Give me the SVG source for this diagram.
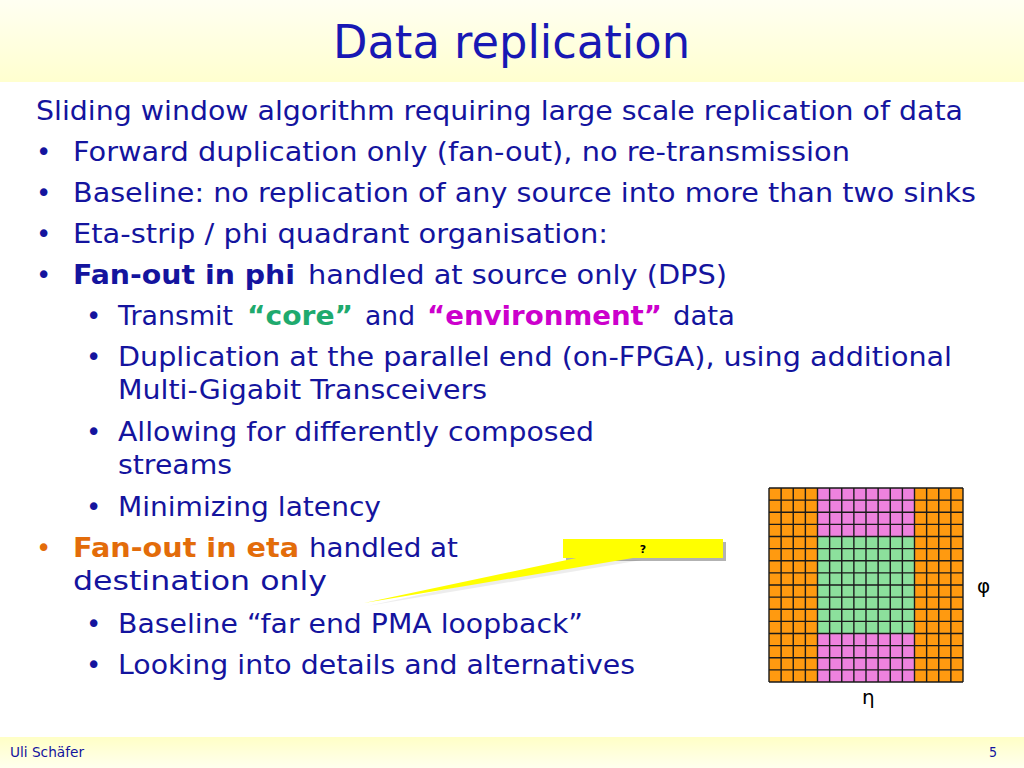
<svg xmlns="http://www.w3.org/2000/svg" width="1024" height="768" viewBox="0 0 1024 768">
<defs>
<linearGradient id="hdr" x1="0" y1="0" x2="0" y2="1">
<stop offset="0" stop-color="#FFFFF2"/>
<stop offset="1" stop-color="#FFFFCF"/>
</linearGradient>
<linearGradient id="ftr" x1="0" y1="0" x2="0" y2="1">
<stop offset="0" stop-color="#FFFFC6"/>
<stop offset="1" stop-color="#FFFFEE"/>
</linearGradient>
<style>
.b{font-family:"DejaVu Sans","Liberation Sans",sans-serif;font-size:26px;fill:#14149E}
.bd{font-weight:bold}
.g{fill:#1FAA6E}
.m{fill:#CC00CC}
.o{fill:#E36C0A}
.grid{stroke:#1a1a1a;stroke-width:1.4;fill:none}
</style>
</defs>
<rect width="1024" height="768" fill="#FFFFFF"/>
<rect x="0" y="0" width="1024" height="82" fill="url(#hdr)"/>
<rect x="0" y="737" width="1024" height="31" fill="url(#ftr)"/>

<g id="title">
<text x="333" y="58" textLength="357" lengthAdjust="spacingAndGlyphs" style="font-family:'DejaVu Sans','Liberation Sans',sans-serif;font-size:46px;fill:#1818B4">Data replication</text>
</g>

<g id="body">
<text class="b" x="36" y="120" textLength="927" lengthAdjust="spacingAndGlyphs">Sliding window algorithm requiring large scale replication of data</text>
<text class="b" x="36" y="161">•</text>
<text class="b" x="73" y="161" textLength="777" lengthAdjust="spacingAndGlyphs">Forward duplication only (fan-out), no re-transmission</text>
<text class="b" x="36" y="202">•</text>
<text class="b" x="73" y="202" textLength="903" lengthAdjust="spacingAndGlyphs">Baseline: no replication of any source into more than two sinks</text>
<text class="b" x="36" y="243">•</text>
<text class="b" x="73" y="243" textLength="535" lengthAdjust="spacingAndGlyphs">Eta-strip / phi quadrant organisation:</text>
<text class="b" x="36" y="284">•</text>
<text class="b bd" x="73" y="284" textLength="222" lengthAdjust="spacingAndGlyphs">Fan-out in phi</text>
<text class="b" x="308" y="284" textLength="419" lengthAdjust="spacingAndGlyphs">handled at source only (DPS)</text>
<text class="b" x="86" y="325">•</text>
<text class="b" x="118" y="325" textLength="115" lengthAdjust="spacingAndGlyphs">Transmit</text>
<text class="b bd g" x="247" y="325" textLength="106" lengthAdjust="spacingAndGlyphs">“core”</text>
<text class="b" x="365" y="325" textLength="50" lengthAdjust="spacingAndGlyphs">and</text>
<text class="b bd m" x="427" y="325" textLength="235" lengthAdjust="spacingAndGlyphs">“environment”</text>
<text class="b" x="673" y="325" textLength="62" lengthAdjust="spacingAndGlyphs">data</text>
<text class="b" x="86" y="366">•</text>
<text class="b" x="118" y="366" textLength="834" lengthAdjust="spacingAndGlyphs">Duplication at the parallel end (on-FPGA), using additional</text>
<text class="b" x="118" y="399" textLength="369" lengthAdjust="spacingAndGlyphs">Multi-Gigabit Transceivers</text>
<text class="b" x="86" y="441">•</text>
<text class="b" x="118" y="441" textLength="476" lengthAdjust="spacingAndGlyphs">Allowing for differently composed</text>
<text class="b" x="118" y="474" textLength="114" lengthAdjust="spacingAndGlyphs">streams</text>
<text class="b" x="86" y="516">•</text>
<text class="b" x="118" y="516" textLength="263" lengthAdjust="spacingAndGlyphs">Minimizing latency</text>
<text class="b o" x="36" y="557">•</text>
<text class="b bd o" x="73" y="557" textLength="226" lengthAdjust="spacingAndGlyphs">Fan-out in eta</text>
<text class="b" x="309" y="557" textLength="149" lengthAdjust="spacingAndGlyphs">handled at</text>
<text class="b" x="73" y="590" textLength="254" lengthAdjust="spacingAndGlyphs">destination only</text>
<text class="b" x="86" y="633">•</text>
<text class="b" x="118" y="633" textLength="465" lengthAdjust="spacingAndGlyphs">Baseline “far end PMA loopback”</text>
<text class="b" x="86" y="674">•</text>
<text class="b" x="118" y="674" textLength="517" lengthAdjust="spacingAndGlyphs">Looking into details and alternatives</text>
</g>

<g id="callout">
<polygon points="584,560 642,560 367,606" fill="#000" opacity="0.07"/>
<rect x="566" y="542" width="160" height="19" fill="#000" opacity="0.3"/>
<polygon points="581,557 639,557 364,603" fill="#FFFF00"/>
<rect x="563" y="539" width="160" height="19" fill="#FFFF00"/>
<text x="643" y="553" text-anchor="middle" style="font-family:'DejaVu Sans','Liberation Sans',sans-serif;font-size:11px;font-weight:bold;fill:#000">?</text>
</g>

<g id="grid">
<rect x="769" y="488" width="48.5" height="194" fill="#FF9A10"/>
<rect x="914.5" y="488" width="48.5" height="194" fill="#FF9A10"/>
<rect x="817.5" y="488" width="97" height="48.5" fill="#EE82DE"/>
<rect x="817.5" y="633.5" width="97" height="48.5" fill="#EE82DE"/>
<rect x="817.5" y="536.5" width="97" height="97" fill="#8CE09C"/>
<path class="grid" d="M769,488V682M781.125,488V682M793.25,488V682M805.375,488V682M817.5,488V682M829.625,488V682M841.75,488V682M853.875,488V682M866,488V682M878.125,488V682M890.25,488V682M902.375,488V682M914.5,488V682M926.625,488V682M938.75,488V682M950.875,488V682M963,488V682M769,488H963M769,500.125H963M769,512.25H963M769,524.375H963M769,536.5H963M769,548.625H963M769,560.75H963M769,572.875H963M769,585H963M769,597.125H963M769,609.25H963M769,621.375H963M769,633.5H963M769,645.625H963M769,657.75H963M769,669.875H963M769,682H963"/>
<text x="977" y="593" style="font-family:'DejaVu Sans','Liberation Sans',sans-serif;font-size:20px;fill:#000">φ</text>
<text x="862" y="704" style="font-family:'DejaVu Sans','Liberation Sans',sans-serif;font-size:20px;fill:#000">η</text>
</g>

<g id="footer">
<text x="10" y="757" style="font-family:'DejaVu Sans Condensed','DejaVu Sans',sans-serif;font-size:14px;fill:#14149E" textLength="74" lengthAdjust="spacingAndGlyphs">Uli Schäfer</text>
<text x="997" y="757" text-anchor="end" style="font-family:'DejaVu Sans Condensed','DejaVu Sans',sans-serif;font-size:14px;fill:#14149E">5</text>
</g>
</svg>
